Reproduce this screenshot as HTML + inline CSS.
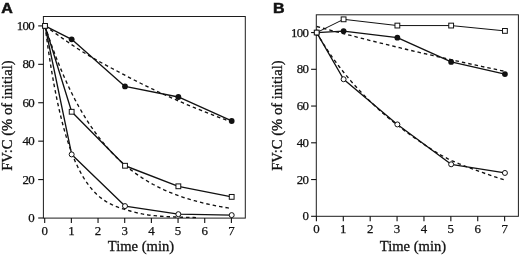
<!DOCTYPE html>
<html><head><meta charset="utf-8"><style>
html,body{margin:0;padding:0;background:#fff;overflow:hidden}
svg{display:block}
.tk{font-family:"Liberation Serif",serif;font-size:12.9px;fill:#111;stroke:#111;stroke-width:0.25px}
.tky{letter-spacing:-0.7px}
.ax{font-family:"Liberation Serif",serif;font-size:14.6px;fill:#111;stroke:#111;stroke-width:0.3px}
.pl{font-family:"Liberation Sans",sans-serif;font-size:13.8px;font-weight:bold;fill:#111;stroke:#111;stroke-width:0.5px}
</style></head><body>
<svg style="filter:grayscale(1);will-change:transform" width="520" height="256" viewBox="0 0 520 256">
<rect width="520" height="256" fill="#fff"/>
<rect x="43.4" y="16.5" width="201.90" height="201.60" fill="none" stroke="#1c1c1c" stroke-width="1"/>
<line x1="44.70" y1="218.1" x2="44.70" y2="223.0" stroke="#111" stroke-width="1.1"/>
<text x="44.70" y="234.9" text-anchor="middle" class="tk">0</text>
<line x1="71.37" y1="218.1" x2="71.37" y2="223.0" stroke="#111" stroke-width="1.1"/>
<text x="71.37" y="234.9" text-anchor="middle" class="tk">1</text>
<line x1="98.04" y1="218.1" x2="98.04" y2="223.0" stroke="#111" stroke-width="1.1"/>
<text x="98.04" y="234.9" text-anchor="middle" class="tk">2</text>
<line x1="124.71" y1="218.1" x2="124.71" y2="223.0" stroke="#111" stroke-width="1.1"/>
<text x="124.71" y="234.9" text-anchor="middle" class="tk">3</text>
<line x1="151.38" y1="218.1" x2="151.38" y2="223.0" stroke="#111" stroke-width="1.1"/>
<text x="151.38" y="234.9" text-anchor="middle" class="tk">4</text>
<line x1="178.05" y1="218.1" x2="178.05" y2="223.0" stroke="#111" stroke-width="1.1"/>
<text x="178.05" y="234.9" text-anchor="middle" class="tk">5</text>
<line x1="204.72" y1="218.1" x2="204.72" y2="223.0" stroke="#111" stroke-width="1.1"/>
<text x="204.72" y="234.9" text-anchor="middle" class="tk">6</text>
<line x1="231.39" y1="218.1" x2="231.39" y2="223.0" stroke="#111" stroke-width="1.1"/>
<text x="231.39" y="234.9" text-anchor="middle" class="tk">7</text>
<line x1="38.199999999999996" y1="218.00" x2="43.4" y2="218.00" stroke="#111" stroke-width="1.1"/>
<text x="34.0" y="222.10" text-anchor="end" class="tk tky">0</text>
<line x1="38.199999999999996" y1="179.58" x2="43.4" y2="179.58" stroke="#111" stroke-width="1.1"/>
<text x="34.0" y="183.68" text-anchor="end" class="tk tky">20</text>
<line x1="38.199999999999996" y1="141.16" x2="43.4" y2="141.16" stroke="#111" stroke-width="1.1"/>
<text x="34.0" y="145.26" text-anchor="end" class="tk tky">40</text>
<line x1="38.199999999999996" y1="102.74" x2="43.4" y2="102.74" stroke="#111" stroke-width="1.1"/>
<text x="34.0" y="106.84" text-anchor="end" class="tk tky">60</text>
<line x1="38.199999999999996" y1="64.32" x2="43.4" y2="64.32" stroke="#111" stroke-width="1.1"/>
<text x="34.0" y="68.42" text-anchor="end" class="tk tky">80</text>
<line x1="38.199999999999996" y1="25.90" x2="43.4" y2="25.90" stroke="#111" stroke-width="1.1"/>
<text x="34.0" y="30.00" text-anchor="end" class="tk tky">100</text>
<polyline points="45.00,25.90 48.73,28.56 52.47,31.22 56.20,33.88 59.94,36.52 63.67,39.15 67.40,41.74 71.14,44.29 74.87,46.80 78.60,49.24 82.34,51.62 86.07,53.93 89.81,56.17 93.54,58.34 97.27,60.46 101.01,62.53 104.74,64.55 108.47,66.54 112.21,68.52 115.94,70.48 119.68,72.44 123.41,74.41 127.14,76.39 130.88,78.34 134.61,80.26 138.34,82.15 142.08,84.02 145.81,85.87 149.55,87.69 153.28,89.48 157.01,91.25 160.75,92.99 164.48,94.72 168.22,96.41 171.95,98.09 175.68,99.74 179.42,101.36 183.15,102.97 186.88,104.55 190.62,106.11 194.35,107.65 198.09,109.17 201.82,110.67 205.55,112.15 209.29,113.61 213.02,115.04 216.75,116.46 220.49,117.86 224.22,119.24 227.96,120.60 231.69,121.94" fill="none" stroke="#111" stroke-width="1.35" stroke-dasharray="3.5,3"/>
<polyline points="45.00,25.90 48.73,37.12 52.47,47.69 56.20,57.64 59.94,67.01 63.67,75.83 67.40,84.14 71.14,91.96 74.87,99.32 78.60,106.26 82.34,112.78 86.07,118.93 89.81,124.72 93.54,130.17 97.27,135.30 101.01,140.13 104.74,144.68 108.47,148.96 112.21,153.00 115.94,156.80 119.68,160.37 123.41,163.74 127.14,166.91 130.88,169.89 134.61,172.70 138.34,175.35 142.08,177.84 145.81,180.19 149.55,182.40 153.28,184.48 157.01,186.44 160.75,188.28 164.48,190.02 168.22,191.65 171.95,193.19 175.68,194.64 179.42,196.00 183.15,197.29 186.88,198.50 190.62,199.64 194.35,200.71 198.09,201.72 201.82,202.67 205.55,203.57 209.29,204.41 213.02,205.21 216.75,205.95 220.49,206.66 224.22,207.32 227.96,207.94 231.69,208.53" fill="none" stroke="#111" stroke-width="1.35" stroke-dasharray="3.5,3"/>
<polyline points="45.00,25.90 48.04,48.15 51.08,67.83 54.12,85.22 57.16,100.61 60.20,114.21 63.24,126.23 66.28,136.86 69.32,146.26 72.36,154.57 75.40,161.92 78.44,168.41 81.48,174.16 84.52,179.24 87.57,183.72 90.61,187.69 93.65,191.19 96.69,194.27 99.73,196.98 102.77,199.34 105.81,201.40 108.85,203.18 111.89,204.71 114.93,206.04 117.97,207.20 121.01,208.25 124.05,209.22 127.09,210.14 130.13,211.02 133.17,211.85 136.21,212.63 139.25,213.34 142.29,213.96 145.33,214.50 148.37,214.97 151.41,215.35 154.45,215.68 157.49,215.97 160.53,216.21 163.57,216.42 166.62,216.60 169.66,216.77 172.70,216.91 175.74,217.04 178.78,217.15 181.82,217.25 184.86,217.33 187.90,217.41 190.94,217.48 193.98,217.54 197.02,217.59" fill="none" stroke="#111" stroke-width="1.35" stroke-dasharray="3.5,3"/>
<polyline points="45.00,25.90 71.67,39.35 125.01,86.41 178.35,96.98 231.69,120.99" fill="none" stroke="#111" stroke-width="1.35" stroke-linejoin="round"/>
<polyline points="45.00,25.90 71.67,111.77 125.01,165.75 178.35,186.30 231.69,196.87" fill="none" stroke="#111" stroke-width="1.35" stroke-linejoin="round"/>
<polyline points="45.00,25.90 71.67,154.41 125.01,206.09 178.35,214.16 231.69,215.12" fill="none" stroke="#111" stroke-width="1.35" stroke-linejoin="round"/>
<circle cx="45.00" cy="25.90" r="2.5" fill="#fff" stroke="#111" stroke-width="1"/>
<circle cx="71.67" cy="154.41" r="2.5" fill="#fff" stroke="#111" stroke-width="1"/>
<circle cx="125.01" cy="206.09" r="2.5" fill="#fff" stroke="#111" stroke-width="1"/>
<circle cx="178.35" cy="214.16" r="2.5" fill="#fff" stroke="#111" stroke-width="1"/>
<circle cx="231.69" cy="215.12" r="2.5" fill="#fff" stroke="#111" stroke-width="1"/>
<circle cx="45.00" cy="25.90" r="2.9" fill="#111"/>
<circle cx="71.67" cy="39.35" r="2.9" fill="#111"/>
<circle cx="125.01" cy="86.41" r="2.9" fill="#111"/>
<circle cx="178.35" cy="96.98" r="2.9" fill="#111"/>
<circle cx="231.69" cy="120.99" r="2.9" fill="#111"/>
<rect x="42.60" y="23.50" width="4.8" height="4.8" fill="#fff" stroke="#111" stroke-width="1"/>
<rect x="69.27" y="109.37" width="4.8" height="4.8" fill="#fff" stroke="#111" stroke-width="1"/>
<rect x="122.61" y="163.35" width="4.8" height="4.8" fill="#fff" stroke="#111" stroke-width="1"/>
<rect x="175.95" y="183.90" width="4.8" height="4.8" fill="#fff" stroke="#111" stroke-width="1"/>
<rect x="229.29" y="194.47" width="4.8" height="4.8" fill="#fff" stroke="#111" stroke-width="1"/>
<text transform="translate(1.2,13.2) scale(1.16,1)" class="pl">A</text>
<text transform="translate(11.5,115.6) rotate(-90)" text-anchor="middle" class="ax">FV:C (% of initial)</text>
<text x="141.0" y="251.3" text-anchor="middle" class="ax">Time (min)</text>
<rect x="316.3" y="14.8" width="202.10" height="201.50" fill="none" stroke="#1c1c1c" stroke-width="1"/>
<line x1="316.40" y1="216.3" x2="316.40" y2="221.20000000000002" stroke="#111" stroke-width="1.1"/>
<text x="316.40" y="232.8" text-anchor="middle" class="tk">0</text>
<line x1="343.29" y1="216.3" x2="343.29" y2="221.20000000000002" stroke="#111" stroke-width="1.1"/>
<text x="343.29" y="232.8" text-anchor="middle" class="tk">1</text>
<line x1="370.18" y1="216.3" x2="370.18" y2="221.20000000000002" stroke="#111" stroke-width="1.1"/>
<text x="370.18" y="232.8" text-anchor="middle" class="tk">2</text>
<line x1="397.07" y1="216.3" x2="397.07" y2="221.20000000000002" stroke="#111" stroke-width="1.1"/>
<text x="397.07" y="232.8" text-anchor="middle" class="tk">3</text>
<line x1="423.96" y1="216.3" x2="423.96" y2="221.20000000000002" stroke="#111" stroke-width="1.1"/>
<text x="423.96" y="232.8" text-anchor="middle" class="tk">4</text>
<line x1="450.85" y1="216.3" x2="450.85" y2="221.20000000000002" stroke="#111" stroke-width="1.1"/>
<text x="450.85" y="232.8" text-anchor="middle" class="tk">5</text>
<line x1="477.74" y1="216.3" x2="477.74" y2="221.20000000000002" stroke="#111" stroke-width="1.1"/>
<text x="477.74" y="232.8" text-anchor="middle" class="tk">6</text>
<line x1="504.63" y1="216.3" x2="504.63" y2="221.20000000000002" stroke="#111" stroke-width="1.1"/>
<text x="504.63" y="232.8" text-anchor="middle" class="tk">7</text>
<line x1="311.1" y1="216.30" x2="316.3" y2="216.30" stroke="#111" stroke-width="1.1"/>
<text x="308.3" y="220.40" text-anchor="end" class="tk tky">0</text>
<line x1="311.1" y1="179.55" x2="316.3" y2="179.55" stroke="#111" stroke-width="1.1"/>
<text x="308.3" y="183.65" text-anchor="end" class="tk tky">20</text>
<line x1="311.1" y1="142.80" x2="316.3" y2="142.80" stroke="#111" stroke-width="1.1"/>
<text x="308.3" y="146.90" text-anchor="end" class="tk tky">40</text>
<line x1="311.1" y1="106.05" x2="316.3" y2="106.05" stroke="#111" stroke-width="1.1"/>
<text x="308.3" y="110.15" text-anchor="end" class="tk tky">60</text>
<line x1="311.1" y1="69.30" x2="316.3" y2="69.30" stroke="#111" stroke-width="1.1"/>
<text x="308.3" y="73.40" text-anchor="end" class="tk tky">80</text>
<line x1="311.1" y1="32.55" x2="316.3" y2="32.55" stroke="#111" stroke-width="1.1"/>
<text x="308.3" y="36.65" text-anchor="end" class="tk tky">100</text>
<polyline points="316.70,26.49 320.46,27.51 324.23,28.52 327.99,29.53 331.76,30.53 335.52,31.53 339.29,32.53 343.05,33.51 346.82,34.50 350.58,35.47 354.35,36.45 358.11,37.41 361.88,38.37 365.64,39.33 369.40,40.28 373.17,41.23 376.93,42.17 380.70,43.11 384.46,44.04 388.23,44.96 391.99,45.88 395.76,46.80 399.52,47.71 403.29,48.62 407.05,49.52 410.81,50.42 414.58,51.31 418.34,52.19 422.11,53.08 425.87,53.95 429.64,54.83 433.40,55.69 437.17,56.56 440.93,57.42 444.70,58.27 448.46,59.12 452.23,59.96 455.99,60.81 459.75,61.64 463.52,62.47 467.28,63.30 471.05,64.12 474.81,64.94 478.58,65.75 482.34,66.56 486.11,67.37 489.87,68.17 493.64,68.96 497.40,69.76 501.17,70.54 504.93,71.33" fill="none" stroke="#111" stroke-width="1.35" stroke-dasharray="3.5,3"/>
<polyline points="316.70,32.55 320.46,39.07 324.23,45.20 327.99,50.98 331.76,56.48 335.52,61.71 339.29,66.72 343.05,71.52 346.82,76.14 350.58,80.59 354.35,84.88 358.11,89.02 361.88,93.02 365.64,96.90 369.40,100.65 373.17,104.28 376.93,107.80 380.70,111.21 384.46,114.52 388.23,117.73 391.99,120.84 395.76,123.86 399.52,126.80 403.29,129.66 407.05,132.45 410.81,135.18 414.58,137.87 418.34,140.51 422.11,143.10 425.87,145.65 429.64,148.14 433.40,150.55 437.17,152.87 440.93,155.06 444.70,157.12 448.46,159.04 452.23,160.83 455.99,162.48 459.75,164.04 463.52,165.53 467.28,166.96 471.05,168.37 474.81,169.75 478.58,171.12 482.34,172.47 486.11,173.81 489.87,175.13 493.64,176.42 497.40,177.68 501.17,178.90 504.93,180.09" fill="none" stroke="#111" stroke-width="1.35" stroke-dasharray="3.5,3"/>
<polyline points="316.70,32.55 343.59,19.32 397.37,25.57 451.15,25.57 504.93,30.90" fill="none" stroke="#111" stroke-width="1.0" stroke-linejoin="round"/>
<polyline points="316.70,32.55 343.59,31.08 397.37,37.70 451.15,61.95 504.93,74.08" fill="none" stroke="#111" stroke-width="1.35" stroke-linejoin="round"/>
<polyline points="316.70,32.55 343.59,79.22 397.37,124.43 451.15,164.30 504.93,172.94" fill="none" stroke="#111" stroke-width="1.35" stroke-linejoin="round"/>
<circle cx="316.70" cy="32.55" r="2.5" fill="#fff" stroke="#111" stroke-width="1"/>
<circle cx="343.59" cy="79.22" r="2.5" fill="#fff" stroke="#111" stroke-width="1"/>
<circle cx="397.37" cy="124.43" r="2.5" fill="#fff" stroke="#111" stroke-width="1"/>
<circle cx="451.15" cy="164.30" r="2.5" fill="#fff" stroke="#111" stroke-width="1"/>
<circle cx="504.93" cy="172.94" r="2.5" fill="#fff" stroke="#111" stroke-width="1"/>
<circle cx="316.70" cy="32.55" r="2.9" fill="#111"/>
<circle cx="343.59" cy="31.08" r="2.9" fill="#111"/>
<circle cx="397.37" cy="37.70" r="2.9" fill="#111"/>
<circle cx="451.15" cy="61.95" r="2.9" fill="#111"/>
<circle cx="504.93" cy="74.08" r="2.9" fill="#111"/>
<rect x="314.30" y="30.15" width="4.8" height="4.8" fill="#fff" stroke="#111" stroke-width="1"/>
<rect x="341.19" y="16.92" width="4.8" height="4.8" fill="#fff" stroke="#111" stroke-width="1"/>
<rect x="394.97" y="23.17" width="4.8" height="4.8" fill="#fff" stroke="#111" stroke-width="1"/>
<rect x="448.75" y="23.17" width="4.8" height="4.8" fill="#fff" stroke="#111" stroke-width="1"/>
<rect x="502.53" y="28.50" width="4.8" height="4.8" fill="#fff" stroke="#111" stroke-width="1"/>
<text transform="translate(273.0,12.8) scale(1.16,1)" class="pl">B</text>
<text transform="translate(281.5,115.6) rotate(-90)" text-anchor="middle" class="ax">FV:C (% of initial)</text>
<text x="413.0" y="251.3" text-anchor="middle" class="ax">Time (min)</text>
</svg></body></html>
